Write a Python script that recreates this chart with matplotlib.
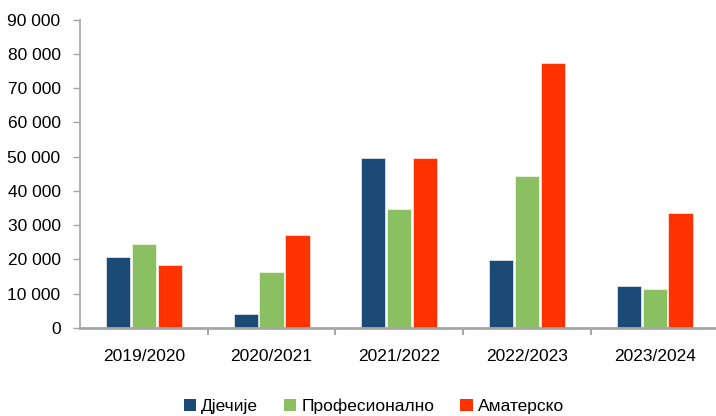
import numpy as np
import matplotlib.pyplot as plt
from matplotlib.patches import Patch

seasons = ["2019/2020", "2020/2021", "2021/2022", "2022/2023", "2023/2024"]
djecije = [20600, 4200, 49500, 19700, 12200]
profesionalno = [24600, 16400, 34600, 44300, 11400]
amatersko = [18400, 27100, 49600, 77200, 33500]

series_names = ["Дјечије", "Професионално", "Аматерско"]
colors = ["#1a4a75", "#8abf62", "#ff3300"]

plt.rcParams['font.family'] = ['Liberation Sans', 'DejaVu Sans']

fig = plt.figure(figsize=(7.16, 4.16), dpi=100)
ax = fig.add_axes([80 / 716, 88 / 416, 636 / 716, 308.5 / 416])

x = np.arange(len(seasons))
for i, vals in enumerate([djecije, profesionalno, amatersko]):
    ax.bar(x + (i - 1) * 0.203, vals, width=0.19, color=colors[i],
           edgecolor='white', linewidth=0.4)

ax.set_xlim(-0.5, 4.48)
ax.set_ylim(0, 90000)
ax.set_yticks(np.arange(0, 90001, 10000))
ax.set_yticklabels([f"{v:,}".replace(",", " ") for v in range(0, 90001, 10000)])

ax.set_xticks(x)
ax.set_xticklabels(seasons)
ax.set_xticks(np.arange(0.5, 4.5, 1), minor=True)
ax.tick_params(axis='x', which='major', length=0, pad=15, labelsize=12.5)
ax.tick_params(axis='x', which='minor', length=5, width=1.5, color='#a6a6a6', direction='out')
ax.tick_params(axis='y', length=5, width=1, color='#a6a6a6', pad=9, labelsize=12.5)

for side in ['top', 'right']:
    ax.spines[side].set_visible(False)
for side in ['left', 'bottom']:
    ax.spines[side].set_color('#a6a6a6')
ax.spines['left'].set_linewidth(1.2)
ax.spines['bottom'].set_linewidth(2)

handles = [Patch(facecolor=c, edgecolor='none') for c in colors]
fig.legend(handles, series_names, loc='center', bbox_to_anchor=(0.522, 0.024), ncol=3,
           frameon=False, fontsize=12.5, handlelength=0.7, handleheight=0.7,
           handletextpad=0.3, columnspacing=1.5)

fig.savefig("out.png", dpi=100)
